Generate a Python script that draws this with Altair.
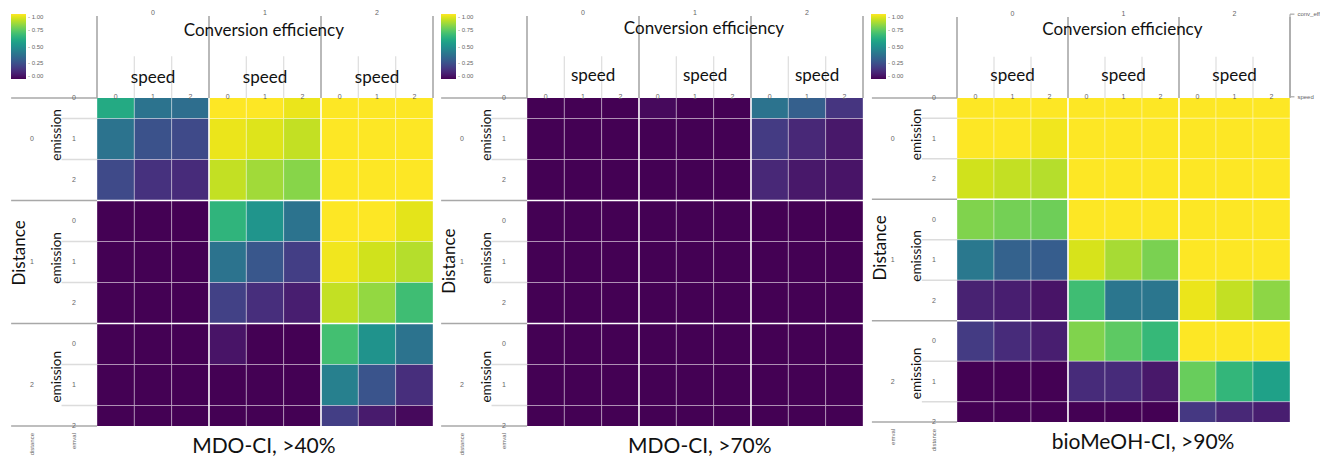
import altair as alt
import pandas as pd

levels = ["0", "1", "2"]

# rows: distance x emission (0..2 x 0..2), columns: conv_eff x speed (0..2 x 0..2)
mdo_40 = [
    [0.61, 0.38, 0.36, 1.00, 1.00, 0.97, 1.00, 1.00, 1.00],
    [0.38, 0.25, 0.22, 0.97, 0.95, 0.91, 1.00, 1.00, 1.00],
    [0.22, 0.14, 0.12, 0.91, 0.86, 0.82, 1.00, 1.00, 1.00],
    [0.00, 0.00, 0.00, 0.65, 0.52, 0.38, 1.00, 1.00, 0.96],
    [0.00, 0.00, 0.00, 0.38, 0.27, 0.18, 0.98, 0.93, 0.89],
    [0.00, 0.00, 0.00, 0.19, 0.13, 0.08, 0.91, 0.84, 0.69],
    [0.00, 0.00, 0.00, 0.05, 0.00, 0.00, 0.70, 0.51, 0.38],
    [0.00, 0.00, 0.00, 0.00, 0.00, 0.00, 0.43, 0.26, 0.13],
    [0.00, 0.00, 0.00, 0.00, 0.00, 0.00, 0.18, 0.07, 0.02],
]
mdo_70 = [
    [0.00, 0.00, 0.00, 0.02, 0.00, 0.00, 0.38, 0.30, 0.15],
    [0.00, 0.00, 0.00, 0.00, 0.00, 0.00, 0.17, 0.11, 0.06],
    [0.00, 0.00, 0.00, 0.00, 0.00, 0.00, 0.11, 0.06, 0.05],
    [0.00, 0.00, 0.00, 0.00, 0.00, 0.00, 0.00, 0.00, 0.00],
    [0.00, 0.00, 0.00, 0.00, 0.00, 0.00, 0.00, 0.00, 0.00],
    [0.00, 0.00, 0.00, 0.00, 0.00, 0.00, 0.00, 0.00, 0.00],
    [0.00, 0.00, 0.00, 0.00, 0.00, 0.00, 0.00, 0.00, 0.00],
    [0.00, 0.00, 0.00, 0.00, 0.00, 0.00, 0.00, 0.00, 0.00],
    [0.00, 0.00, 0.00, 0.00, 0.00, 0.00, 0.00, 0.00, 0.00],
]
biomeoh_90 = [
    [1.00, 1.00, 1.00, 1.00, 1.00, 1.00, 1.00, 1.00, 1.00],
    [1.00, 1.00, 0.98, 1.00, 1.00, 1.00, 1.00, 1.00, 1.00],
    [0.93, 0.91, 0.89, 1.00, 1.00, 1.00, 1.00, 1.00, 1.00],
    [0.81, 0.79, 0.78, 1.00, 1.00, 1.00, 1.00, 1.00, 1.00],
    [0.40, 0.31, 0.29, 0.94, 0.87, 0.80, 1.00, 1.00, 1.00],
    [0.09, 0.08, 0.05, 0.69, 0.39, 0.39, 0.97, 0.91, 0.83],
    [0.17, 0.12, 0.08, 0.81, 0.75, 0.67, 1.00, 1.00, 1.00],
    [0.00, 0.00, 0.00, 0.12, 0.12, 0.06, 0.77, 0.66, 0.57],
    [0.00, 0.00, 0.00, 0.00, 0.00, 0.00, 0.16, 0.11, 0.08],
]
panel_titles = ["MDO-CI, >40%", "MDO-CI, >70%", "bioMeOH-CI, >90%"]
legend_ticks = [0, 0.25, 0.5, 0.75, 1.0]

BIG = "Lato"
SMALL = "Liberation Sans"
GREY = "#666666"


def xs():
    return alt.Scale(domain=[0, 9], nice=False, zero=False)


def ys():
    return alt.Scale(domain=[0.5, 8.5], nice=False, zero=False, reverse=True)


def pos():
    return dict(x=alt.X("x:Q", scale=xs(), axis=None),
                y=alt.Y("y:Q", scale=ys(), axis=None))


def texts(rows, **mk):
    df = pd.DataFrame(rows, columns=["x", "y", "t"])
    return alt.Chart(df).mark_text(**mk).encode(**pos(), text="t:N")


def rules(rows, **mk):
    df = pd.DataFrame(rows, columns=["x", "x2", "y", "y2"])
    return alt.Chart(df).mark_rule(**mk).encode(**pos(), x2="x2:Q", y2="y2:Q")


def panel(values, title, title_x, shift, conv_base, speed_base, dist_y,
          bottom_labels, width, height, bracket=False):
    recs = []
    for r in range(9):
        d, e = divmod(r, 3)
        for c in range(9):
            cv, sp = divmod(c, 3)
            recs.append(dict(distance=levels[d], emission=levels[e],
                             conv_eff=levels[cv], speed=levels[sp],
                             value=values[r][c]))
    cells = pd.DataFrame(recs)
    cells["x"] = cells["conv_eff"].astype(int) * 3 + cells["speed"].astype(int)
    cells["x1"] = cells["x"] + 1
    cells["y"] = cells["distance"].astype(int) * 3 + cells["emission"].astype(int)
    cells["y1"] = cells["y"] + 1

    heat = alt.Chart(cells).mark_rect(
        clip=True, stroke="white", strokeWidth=1, strokeOpacity=0.35
    ).encode(
        **pos(), x2="x1:Q", y2="y1:Q",
        color=alt.Color(
            "value:Q",
            scale=alt.Scale(scheme="viridis", domain=[0, 1]),
            legend=alt.Legend(
                orient="none", legendX=-86, legendY=-84, direction="vertical",
                title=None, gradientLength=65, gradientThickness=15,
                values=legend_ticks, labelFontSize=6, labelColor=GREY,
                labelFont=SMALL, labelOverlap=False, labelOffset=2, padding=0,
                labelExpr="'- ' + format(datum.value, '.2f')",
            ),
        ),
    )

    # separators inside heatmap
    seps = rules([[3, 3, 0.5, 8.5], [6, 6, 0.5, 8.5], [0, 9, 3, 3], [0, 9, 6, 6]],
                 color="white", strokeWidth=1.5, clip=True)

    top_major = rules([[v, v, -1.5, 0.5] for v in (0, 3, 6, 9)],
                      color="#a8a8a8", strokeWidth=1.6)
    top_minor = rules([[v, v, -0.52, 0.5] for v in (1, 2, 4, 5, 7, 8)],
                      color="#e0e0e0", strokeWidth=1.3)
    left_major = rules([[-2.3, 0, v, v] for v in (0.5, 3, 6, 8.5)],
                       color="#a8a8a8", strokeWidth=1.6)
    left_minor = rules([[-0.95, 0, v, v] for v in (1, 2, 4, 5, 7, 8)],
                       color="#dcdcdc", strokeWidth=1.3)

    conv_lbl = texts([[1.5 + 3 * i, -1.57, levels[i]] for i in range(3)],
                     font=SMALL, fontSize=7, color=GREY)
    conv_title = texts([[4.47 + shift, conv_base, "Conversion efficiency"]],
                       font=BIG, fontSize=17, color="#111", baseline="alphabetic")
    speed_title = texts([[1.5 + 3 * i + shift, speed_base, "speed"] for i in range(3)],
                        font=BIG, fontSize=17, color="#111", baseline="alphabetic")
    speed_lbl = texts([[c + 0.5, 0.47, levels[c % 3]] for c in range(9)],
                      font=SMALL, fontSize=7, color=GREY)

    dist_title = texts([[-2.06, dist_y, "Distance"]], font=BIG, fontSize=17,
                       color="#111", angle=270)
    dist_lbl = texts([[-1.74, 1.5 + 3 * i, levels[i]] for i in range(3)],
                     font=SMALL, fontSize=7, color=GREY)
    emis_title = texts([[-1.07, y, "emission"] for y in (1.4, 4.4, 7.3)],
                       font=BIG, fontSize=13.5, color="#111", angle=270)
    emis_lbl = texts([[-0.62, r + 0.5, levels[r % 3]] for r in range(9)],
                     font=SMALL, fontSize=7, color=GREY)

    bottom = texts([[-1.74, 8.67, bottom_labels[0]], [-0.62, 8.67, bottom_labels[1]]],
                   font=SMALL, fontSize=6, color=GREY, angle=270, align="right",
                   limit=24, ellipsis="")
    ttl = texts([[title_x, 9.16, title]], font=BIG, fontSize=21, color="#111",
                baseline="alphabetic")

    layers = [heat, seps, top_major, top_minor, left_major, left_minor,
              conv_lbl, conv_title, speed_title, speed_lbl, dist_title,
              dist_lbl, emis_title, emis_lbl, bottom, ttl]

    if bracket:
        layers.append(rules([[9, 9, -1.57, 0.47], [9, 9.12, -1.57, -1.57],
                             [9, 9.12, 0.47, 0.47]], color="#a8a8a8", strokeWidth=1.2))
        layers.append(texts([[9.2, -1.57, "conv_eff"], [9.2, 0.47, "speed"]],
                            font=SMALL, fontSize=6, color=GREY, align="left"))

    return alt.layer(*layers).properties(width=width, height=height)


p1 = panel(mdo_40, panel_titles[0], 4.47, 0.0, -1.01, 0.13, 4.28,
           ("distance", "emval"), 336, 328)
p2 = panel(mdo_70, panel_titles[1], 4.63, 0.27, -1.06, 0.085, 4.48,
           ("distance", "emval"), 336, 328)
p3 = panel(biomeoh_90, panel_titles[2], 5.03, 0.0, -1.06, 0.085, 4.2,
           ("emval", "distance"), 333, 324, bracket=True)

chart = (
    alt.hconcat(p1, p2, p3, spacing=94, bounds="flush")
    .resolve_scale(color="independent")
    .properties(padding={"left": 2, "top": 1, "right": 0, "bottom": 0},
                background="white")
    .configure_view(stroke=None)
)

chart.save("out.html", embed_options={"renderer": "svg", "actions": False})
